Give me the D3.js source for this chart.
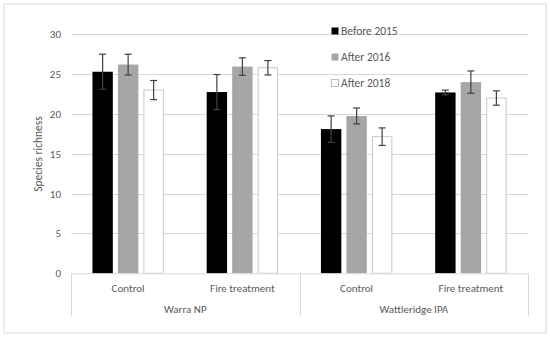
<!DOCTYPE html>
<html><head><meta charset="utf-8">
<script src="https://cdn.jsdelivr.net/npm/d3@7"></script>
<style>body{margin:0;background:#fff}text{font-family:Carlito,"Open Sans","Liberation Sans",sans-serif;fill:#595959}</style>
</head><body><svg id="c" width="550" height="338"></svg>
<script>
const sites = ["Warra NP", "Wattleridge IPA"];
const treatments = ["Control", "Fire treatment"];
const seriesNames = ["Before 2015", "After 2016", "After 2018"];
const seriesColors = ["#000000", "#a6a6a6", "#ffffff"];
const before2015 = [25.3, 22.75, 18.1, 22.7];
const before2015Err = [2.2, 2.2, 1.65, 0.3];
const after2016 = [26.2, 25.95, 19.75, 24.0];
const after2016Err = [1.3, 1.1, 1.0, 1.4];
const after2018 = [23.0, 25.8, 17.15, 22.0];
const after2018Err = [1.2, 0.9, 1.1, 0.9];
const yTicks = [0, 5, 10, 15, 20, 25, 30];

const values = [before2015, after2016, after2018];
const errs = [before2015Err, after2016Err, after2018Err];
const cats = [];
sites.forEach(s => treatments.forEach(t => cats.push(s + "|" + t)));

const svg = d3.select("#c");
const L = 71, R = 528, T = 34.3, B = 273.3;
svg.append("rect").attr("x", 4).attr("y", 4).attr("width", 542).attr("height", 329)
  .attr("fill", "#fff").attr("stroke", "#d9d9d9").attr("stroke-width", 1);

const y = d3.scaleLinear().domain([0, 30]).range([B, T]);
const x0 = d3.scaleBand().domain(cats).range([L, R]);
const x1 = d3.scaleBand().domain(d3.range(3)).range([0, x0.bandwidth()]).paddingInner(0.2).paddingOuter(0.84);

// gridlines
svg.append("g").selectAll("line").data(yTicks.filter(d => d > 0)).join("line")
  .attr("x1", L).attr("x2", R).attr("y1", d => Math.round(y(d)) + 0.5).attr("y2", d => Math.round(y(d)) + 0.5)
  .attr("stroke", "#d9d9d9");

// y axis labels
const ya = svg.append("g").attr("transform", `translate(${L},0)`)
  .call(d3.axisLeft(y).tickValues(yTicks).tickSize(0).tickPadding(10));
ya.select(".domain").remove();
ya.selectAll("text").attr("font-size", 11).attr("fill", "#595959").style("font-family", "Carlito,'Open Sans',sans-serif");

svg.append("text").attr("transform", `translate(42,154) rotate(-90)`).attr("text-anchor", "middle")
  .attr("font-size", 11.5).text("Species richness");

// bars
cats.forEach((c, ci) => {
  const g = svg.append("g").attr("transform", `translate(${x0(c)},0)`);
  d3.range(3).forEach(si => {
    const v = values[si][ci], e = errs[si][ci];
    const bx = x1(si), bw = x1.bandwidth();
    g.append("rect").attr("x", bx + (si === 2 ? 0.5 : 0)).attr("y", y(v))
      .attr("width", bw - (si === 2 ? 1 : 0)).attr("height", B - y(v))
      .attr("fill", seriesColors[si]).attr("stroke", si === 2 ? "#c8c8c8" : "none");
    const cx = bx + bw / 2;
    const eg = g.append("g").attr("stroke", "#404040").attr("stroke-width", 1.2);
    eg.append("line").attr("x1", cx).attr("x2", cx).attr("y1", y(v + e)).attr("y2", y(v - e));
    eg.append("line").attr("x1", cx - 3.5).attr("x2", cx + 3.5).attr("y1", y(v + e)).attr("y2", y(v + e));
    eg.append("line").attr("x1", cx - 3.5).attr("x2", cx + 3.5).attr("y1", y(v - e)).attr("y2", y(v - e));
  });
});

// category axis box
const axisBottom = 316;
const ax = svg.append("g").attr("stroke", "#d9d9d9").attr("fill", "none");
ax.append("line").attr("x1", L).attr("x2", R).attr("y1", B + 0.5).attr("y2", B + 0.5);
const siteBand = d3.scaleBand().domain(sites).range([L, R]);
[L, siteBand(sites[1]), R].forEach(xv => {
  ax.append("line").attr("x1", Math.round(xv) + 0.5).attr("x2", Math.round(xv) + 0.5).attr("y1", B).attr("y2", axisBottom);
});
svg.append("g").selectAll("text").data(cats).join("text")
  .attr("x", d => x0(d) + x0.bandwidth() / 2).attr("y", 291.5).attr("text-anchor", "middle")
  .attr("font-size", 11).text(d => d.split("|")[1]);
svg.append("g").selectAll("text").data(sites).join("text")
  .attr("x", d => siteBand(d) + siteBand.bandwidth() / 2).attr("y", 313).attr("text-anchor", "middle")
  .attr("font-size", 11).text(d => d);

// legend
const lg = svg.append("g");
seriesNames.forEach((n, i) => {
  const ly = 31 + i * 26;
  lg.append("rect").attr("x", 331.5).attr("y", ly - 3.5).attr("width", 7).attr("height", 7)
    .attr("fill", seriesColors[i]).attr("stroke", i === 2 ? "#bfbfbf" : "none");
  lg.append("text").attr("x", 341).attr("y", ly + 4).attr("font-size", 11.5).text(n);
});
</script></body></html>
